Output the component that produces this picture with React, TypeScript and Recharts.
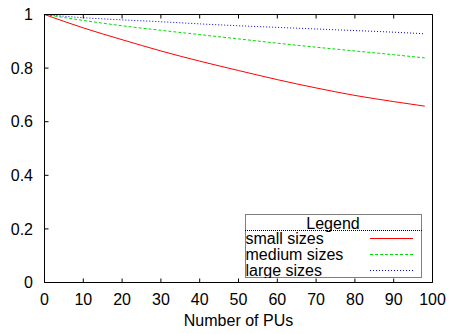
import React from "react";
import {
  LineChart,
  Line,
  XAxis,
  YAxis,
  Legend,
} from "recharts";

const pus = [0, 10, 20, 30, 40, 50, 60, 70, 80, 90, 98];
const small = [1, 0.95, 0.906, 0.864, 0.826, 0.791, 0.757, 0.726, 0.698, 0.675, 0.658];
const medium = [1, 0.978, 0.958, 0.941, 0.925, 0.909, 0.893, 0.878, 0.864, 0.85, 0.838];
const large = [1, 0.988, 0.98, 0.973, 0.965, 0.958, 0.952, 0.946, 0.94, 0.934, 0.928];

const xTicks = [0, 10, 20, 30, 40, 50, 60, 70, 80, 90, 100];
const yTicks = [0, 0.2, 0.4, 0.6, 0.8, 1];

const series = [
  { key: "small", name: "small sizes", color: "#ff0000", dash: undefined },
  { key: "medium", name: "medium sizes", color: "#00e000", dash: "3 2" },
  { key: "large", name: "large sizes", color: "#0000ff", dash: "1 2" },
];

const data = pus.map((x, i) => ({
  x,
  small: small[i],
  medium: medium[i],
  large: large[i],
}));

const font = "'Liberation Sans', Arial, Helvetica, sans-serif";
const fs = 16;
const tickStyle = { fontSize: fs, fill: "#000", fontFamily: font };

function GnuLegend() {
  return (
    <svg width={177} height={64} style={{ display: "block" }}>
      <rect x={0.5} y={0.5} width={176} height={63} fill="#fff" stroke="#000" strokeDasharray="1 1" />
      <text x={88} y={14.5} textAnchor="middle" fontSize={fs} fontFamily={font} fill="#000">
        Legend
      </text>
      <line x1={0} x2={177} y1={16.5} y2={16.5} stroke="#000" strokeDasharray="1 1" />
      {series.map((s, i) => (
        <g key={s.key}>
          <text x={0.5} y={30 + i * 16} fontSize={fs} fontFamily={font} fill="#000">
            {s.name}
          </text>
          <line
            x1={125}
            x2={168}
            y1={24.5 + i * 16}
            y2={24.5 + i * 16}
            stroke={s.color}
            strokeDasharray={s.dash}
          />
        </g>
      ))}
    </svg>
  );
}

export default function App() {
  return (
    <div style={{ position: "absolute", left: 0, top: 0, background: "#fff" }}>
      <LineChart
        width={451}
        height={334}
        data={data}
        margin={{ top: 13.5, right: 17.5, bottom: 21.5, left: 0.5 }}
      >
        <XAxis
          xAxisId="bottom"
          dataKey="x"
          type="number"
          domain={[0, 100]}
          ticks={xTicks}
          interval={0}
          height={30}
          stroke="#000"
          tickSize={-4}
          tickMargin={15}
          tick={tickStyle}
          label={{
            value: "Number of PUs",
            position: "bottom",
            offset: 2,
            style: { fontSize: fs, fill: "#000", fontFamily: font },
          }}
        />
        <XAxis
          xAxisId="top"
          dataKey="x"
          type="number"
          orientation="top"
          domain={[0, 100]}
          ticks={xTicks}
          interval={0}
          height={1}
          stroke="#000"
          tickSize={-4}
          tickFormatter={() => ""}
        />
        <YAxis
          yAxisId="left"
          type="number"
          domain={[0, 1]}
          ticks={yTicks}
          interval={0}
          width={44}
          stroke="#000"
          tickSize={-4}
          tickMargin={15.5}
          tick={tickStyle}
          tickFormatter={(v) => `${v}`}
        />
        <YAxis
          yAxisId="right"
          type="number"
          orientation="right"
          domain={[0, 1]}
          ticks={yTicks}
          interval={0}
          width={1}
          stroke="#000"
          tickSize={-4}
          tickFormatter={() => ""}
        />
        <Legend
          layout="horizontal"
          verticalAlign="middle"
          align="center"
          wrapperStyle={{ position: "absolute", left: 245, top: 214, width: 177, height: 64 }}
          content={() => <GnuLegend />}
        />
        {series.map((s) => (
          <Line
            key={s.key}
            xAxisId="bottom"
            yAxisId="left"
            type="monotone"
            dataKey={s.key}
            name={s.name}
            stroke={s.color}
            strokeWidth={1}
            strokeDasharray={s.dash}
            dot={false}
            isAnimationActive={false}
          />
        ))}
      </LineChart>
    </div>
  );
}
